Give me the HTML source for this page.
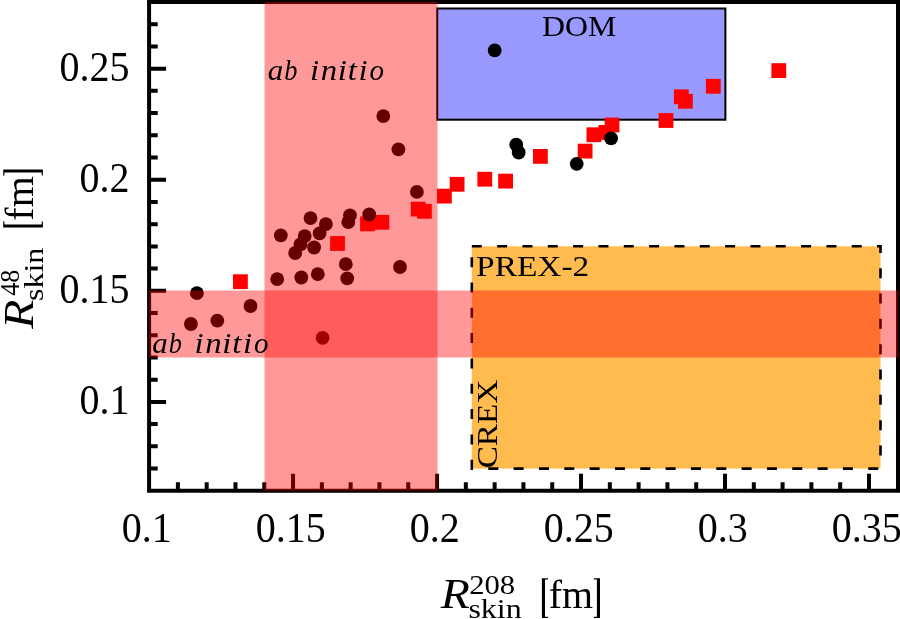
<!DOCTYPE html>
<html><head><meta charset="utf-8"><style>
html,body{margin:0;padding:0;background:#fff;width:900px;height:619px;overflow:hidden}
svg{display:block;will-change:transform}
text{font-family:"Liberation Serif",serif;fill:#000;font-kerning:none}
</style></head><body>
<svg width="900" height="619" viewBox="0 0 900 619">
<rect width="900" height="619" fill="#fff"/>
<rect x="437.2" y="8.5" width="288.20" height="111.20" fill="#9999ff" stroke="#000" stroke-width="2"/>
<text transform=" translate(541.93 35.60) scale(1.0980 1)" font-size="29">DOM</text>
<rect x="471.8" y="246.3" width="408.70" height="222.30" fill="#ffbb4d"/>
<path d="M471.8 246.3H880.5V468.6H471.8Z" fill="none" stroke="#000" stroke-width="2.6" stroke-dasharray="10 15.33"/>
<text transform=" translate(476.04 275.60) scale(1.1528 1)" font-size="29">PREX-2</text>
<text transform="translate(497.2 467.0) rotate(-90) translate(-1.36 0.00) scale(1.1451 1)" font-size="29">CREX</text>
<path d="M149.09 468.54h8.6 M149.09 446.32h8.6 M149.09 424.10h8.6 M149.09 401.89h17 M149.09 379.67h8.6 M149.09 357.46h8.6 M149.09 335.24h8.6 M149.09 313.02h8.6 M149.09 290.81h17 M149.09 268.59h8.6 M149.09 246.38h8.6 M149.09 224.16h8.6 M149.09 201.94h8.6 M149.09 179.73h17 M149.09 157.51h8.6 M149.09 135.30h8.6 M149.09 113.08h8.6 M149.09 90.86h8.6 M149.09 68.65h17 M149.09 46.43h8.6 M149.09 24.22h8.6 M177.89 490.75v-8.6 M206.68 490.75v-8.6 M235.48 490.75v-8.6 M264.27 490.75v-8.6 M293.07 490.75v-17 M321.87 490.75v-8.6 M350.66 490.75v-8.6 M379.46 490.75v-8.6 M408.25 490.75v-8.6 M437.05 490.75v-17 M465.85 490.75v-8.6 M494.64 490.75v-8.6 M523.44 490.75v-8.6 M552.23 490.75v-8.6 M581.03 490.75v-17 M609.83 490.75v-8.6 M638.62 490.75v-8.6 M667.42 490.75v-8.6 M696.21 490.75v-8.6 M725.01 490.75v-17 M753.81 490.75v-8.6 M782.60 490.75v-8.6 M811.40 490.75v-8.6 M840.19 490.75v-8.6 M868.99 490.75v-17" stroke="#000" stroke-width="4.0" fill="none"/>
<rect x="149.09" y="2.00" width="748.91" height="488.75" fill="none" stroke="#000" stroke-width="4.0"/>
<rect x="233.00" y="274.30" width="14.8" height="14.8" fill="#ff0000"/>
<rect x="330.10" y="236.10" width="14.8" height="14.8" fill="#ff0000"/>
<rect x="360.10" y="216.50" width="14.8" height="14.8" fill="#ff0000"/>
<rect x="374.50" y="214.90" width="14.8" height="14.8" fill="#ff0000"/>
<rect x="410.80" y="201.70" width="14.8" height="14.8" fill="#ff0000"/>
<rect x="417.00" y="203.90" width="14.8" height="14.8" fill="#ff0000"/>
<rect x="437.00" y="188.70" width="14.8" height="14.8" fill="#ff0000"/>
<rect x="449.70" y="176.90" width="14.8" height="14.8" fill="#ff0000"/>
<rect x="477.40" y="171.80" width="14.8" height="14.8" fill="#ff0000"/>
<rect x="498.20" y="173.70" width="14.8" height="14.8" fill="#ff0000"/>
<rect x="533.00" y="149.00" width="14.8" height="14.8" fill="#ff0000"/>
<rect x="577.70" y="143.70" width="14.8" height="14.8" fill="#ff0000"/>
<rect x="586.50" y="127.35" width="14.8" height="14.8" fill="#ff0000"/>
<rect x="598.50" y="125.00" width="14.8" height="14.8" fill="#ff0000"/>
<rect x="604.60" y="117.60" width="14.8" height="14.8" fill="#ff0000"/>
<rect x="658.60" y="113.10" width="14.8" height="14.8" fill="#ff0000"/>
<rect x="673.90" y="89.40" width="14.8" height="14.8" fill="#ff0000"/>
<rect x="678.00" y="93.90" width="14.8" height="14.8" fill="#ff0000"/>
<rect x="705.90" y="78.90" width="14.8" height="14.8" fill="#ff0000"/>
<rect x="771.40" y="63.20" width="14.8" height="14.8" fill="#ff0000"/>
<circle cx="494.7" cy="50.4" r="6.9" fill="#000"/>
<circle cx="516.2" cy="144.7" r="6.9" fill="#000"/>
<circle cx="518.7" cy="152.5" r="6.9" fill="#000"/>
<circle cx="576.7" cy="163.8" r="6.9" fill="#000"/>
<circle cx="611.1" cy="138.4" r="6.9" fill="#000"/>
<circle cx="280.8" cy="235.3" r="6.9" fill="#000"/>
<circle cx="310.5" cy="218.1" r="6.9" fill="#000"/>
<circle cx="325.9" cy="224.1" r="6.9" fill="#000"/>
<circle cx="319.6" cy="233.4" r="6.9" fill="#000"/>
<circle cx="304.7" cy="236.1" r="6.9" fill="#000"/>
<circle cx="300.5" cy="244.4" r="6.9" fill="#000"/>
<circle cx="295.2" cy="253" r="6.9" fill="#000"/>
<circle cx="314.1" cy="247.5" r="6.9" fill="#000"/>
<circle cx="350" cy="215.3" r="6.9" fill="#000"/>
<circle cx="348.3" cy="222.2" r="6.9" fill="#000"/>
<circle cx="369.2" cy="214.5" r="6.9" fill="#000"/>
<circle cx="345.8" cy="264.2" r="6.9" fill="#000"/>
<circle cx="347.2" cy="278.3" r="6.9" fill="#000"/>
<circle cx="317.8" cy="274.2" r="6.9" fill="#000"/>
<circle cx="301.3" cy="277.5" r="6.9" fill="#000"/>
<circle cx="277.2" cy="279.2" r="6.9" fill="#000"/>
<circle cx="400" cy="267" r="6.9" fill="#000"/>
<circle cx="383.3" cy="116.1" r="6.9" fill="#000"/>
<circle cx="398.4" cy="149.3" r="6.9" fill="#000"/>
<circle cx="416.9" cy="191.9" r="6.9" fill="#000"/>
<circle cx="322.6" cy="337.8" r="6.9" fill="#000"/>
<circle cx="196.9" cy="293.2" r="6.9" fill="#000"/>
<circle cx="250.5" cy="306" r="6.9" fill="#000"/>
<circle cx="217.3" cy="320.6" r="6.9" fill="#000"/>
<circle cx="190.9" cy="324" r="6.9" fill="#000"/>
<rect x="264.5" y="2.00" width="173" height="488.75" fill="rgba(255,0,0,0.4)"/>
<rect x="149.09" y="290.5" width="748.91" height="67" fill="rgba(255,0,0,0.4)"/>
<text transform=" translate(267.78 79.80) scale(1.0868 1)" font-size="28.5" font-style="italic">a</text>
<text transform=" translate(284.22 79.80) scale(0.9246 1)" font-size="28.5" font-style="italic">b</text>
<text transform=" translate(309.88 79.80) scale(1.1500 1)" font-size="28.5" font-style="italic">i</text>
<text transform=" translate(320.80 79.80) scale(1.1500 1)" font-size="28.5" font-style="italic">n</text>
<text transform=" translate(337.68 79.80) scale(1.1500 1)" font-size="28.5" font-style="italic">i</text>
<text transform=" translate(347.80 79.80) scale(1.1500 1)" font-size="28.5" font-style="italic">t</text>
<text transform=" translate(358.38 79.80) scale(1.1500 1)" font-size="28.5" font-style="italic">i</text>
<text transform=" translate(369.53 79.80) scale(1.0197 1)" font-size="28.5" font-style="italic">o</text>
<text transform=" translate(152.28 353.20) scale(1.0868 1)" font-size="28.5" font-style="italic">a</text>
<text transform=" translate(168.72 353.20) scale(0.9246 1)" font-size="28.5" font-style="italic">b</text>
<text transform=" translate(194.38 353.20) scale(1.1500 1)" font-size="28.5" font-style="italic">i</text>
<text transform=" translate(205.30 353.20) scale(1.1500 1)" font-size="28.5" font-style="italic">n</text>
<text transform=" translate(222.18 353.20) scale(1.1500 1)" font-size="28.5" font-style="italic">i</text>
<text transform=" translate(232.30 353.20) scale(1.1500 1)" font-size="28.5" font-style="italic">t</text>
<text transform=" translate(242.88 353.20) scale(1.1500 1)" font-size="28.5" font-style="italic">i</text>
<text transform=" translate(254.03 353.20) scale(1.0197 1)" font-size="28.5" font-style="italic">o</text>
<text transform="translate(129.4 414.19) scale(0.945 1)" font-size="42.3" text-anchor="end">0.1</text>
<text transform="translate(129.4 303.11) scale(0.945 1)" font-size="42.3" text-anchor="end">0.15</text>
<text transform="translate(129.4 192.03) scale(0.945 1)" font-size="42.3" text-anchor="end">0.2</text>
<text transform="translate(129.4 80.95) scale(0.945 1)" font-size="42.3" text-anchor="end">0.25</text>
<text transform="translate(146.79 541.5) scale(0.945 1)" font-size="42.3" text-anchor="middle">0.1</text>
<text transform="translate(290.77 541.5) scale(0.945 1)" font-size="42.3" text-anchor="middle">0.15</text>
<text transform="translate(434.75 541.5) scale(0.945 1)" font-size="42.3" text-anchor="middle">0.2</text>
<text transform="translate(578.73 541.5) scale(0.945 1)" font-size="42.3" text-anchor="middle">0.25</text>
<text transform="translate(722.71 541.5) scale(0.945 1)" font-size="42.3" text-anchor="middle">0.3</text>
<text transform="translate(866.69 541.5) scale(0.945 1)" font-size="42.3" text-anchor="middle">0.35</text>
<text transform="translate(440.5 608) translate(0.26 0.00) scale(1.1493 1)" font-size="41.5" font-style="italic">R</text>
<text transform="translate(440.5 608) translate(28.65 -14.20) scale(1.0956 1)" font-size="28">208</text>
<text transform="translate(440.5 608) translate(27.89 10.20) scale(1.1440 1)" font-size="28">skin</text>
<path transform="translate(440.5 608)" d="M101.4 -29.8h6.1v1.2h-3v37.3h3v1.2h-6.1z M159.5 -29.8h-6.1v1.2h3v37.3h-3v1.2h6.1z" fill="#000"/>
<text transform="translate(440.5 608) translate(108.27 -0.20) scale(0.9982 1)" font-size="40">fm</text>
<text transform="translate(33.0 328.9) rotate(-90) translate(0.26 0.00) scale(1.1493 1)" font-size="41.5" font-style="italic">R</text>
<text transform="translate(33.0 328.9) rotate(-90) translate(33.09 -14.20) scale(0.9323 1)" font-size="28">48</text>
<text transform="translate(33.0 328.9) rotate(-90) translate(27.89 10.20) scale(1.1440 1)" font-size="28">skin</text>
<path transform="translate(33.0 328.9) rotate(-90)" d="M101.4 -29.8h6.1v1.2h-3v37.3h3v1.2h-6.1z M159.5 -29.8h-6.1v1.2h3v37.3h-3v1.2h6.1z" fill="#000"/>
<text transform="translate(33.0 328.9) rotate(-90) translate(108.27 -0.20) scale(0.9982 1)" font-size="40">fm</text>
</svg>
</body></html>
